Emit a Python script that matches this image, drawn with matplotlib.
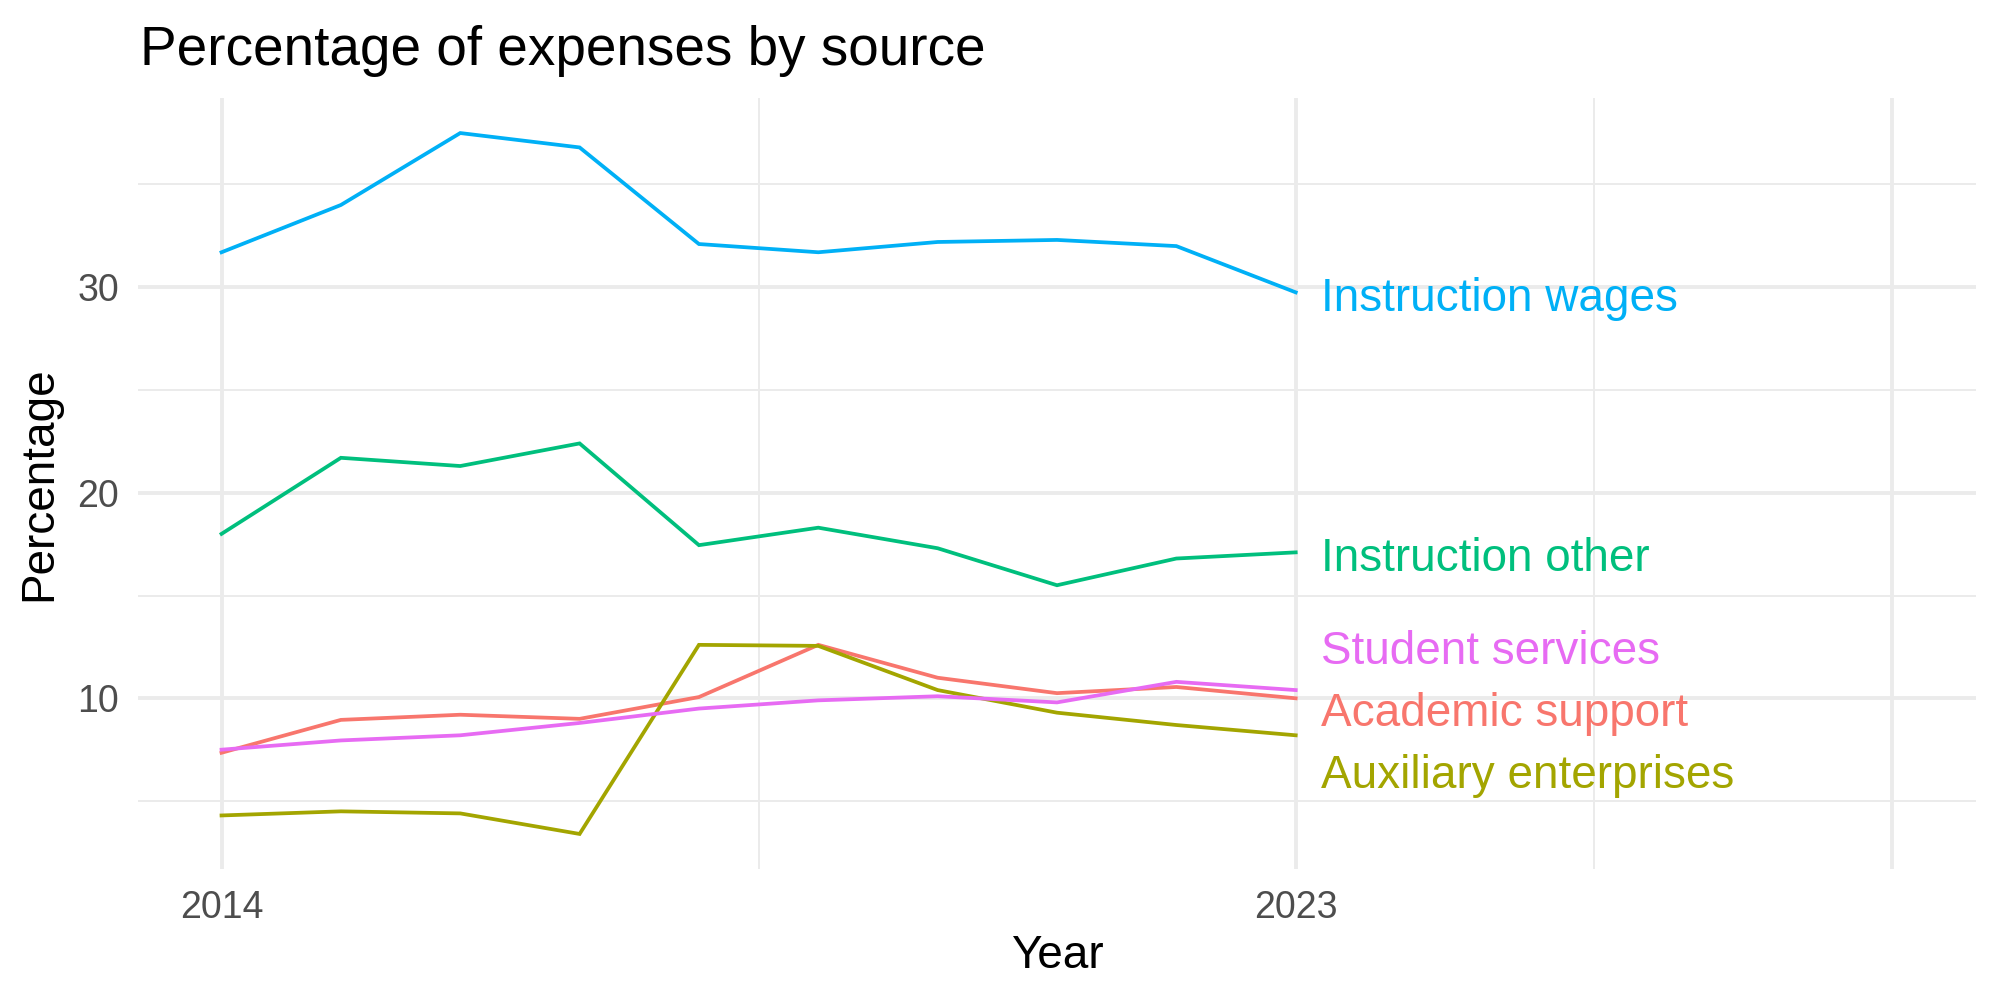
import matplotlib
matplotlib.use("Agg")
import matplotlib.pyplot as plt
import numpy as np

years = [2014, 2015, 2016, 2017, 2018, 2019, 2020, 2021, 2022, 2023]
instruction_wages = [31.7, 34.0, 37.5, 36.8, 32.1, 31.7, 32.2, 32.3, 32.0, 29.75]
instruction_other = [18.0, 21.7, 21.3, 22.4, 17.45, 18.3, 17.3, 15.5, 16.8, 17.1]
academic_support = [7.35, 8.95, 9.2, 9.0, 10.06, 12.6, 11.0, 10.25, 10.55, 10.0]
student_services = [7.5, 7.95, 8.2, 8.8, 9.5, 9.9, 10.1, 9.8, 10.8, 10.4]
auxiliary_enterprises = [4.3, 4.5, 4.4, 3.4, 12.6, 12.55, 10.4, 9.3, 8.7, 8.2]

series_names = ["Academic support", "Auxiliary enterprises", "Instruction other",
                "Instruction wages", "Student services"]
series_values = [academic_support, auxiliary_enterprises, instruction_other,
                 instruction_wages, student_services]
colors = ["#F8766D", "#A3A500", "#00BF7D", "#00B0F6", "#E76BF3"]

x_major = [2014, 2023, 2028]
x_tick_labels = ["2014", "2023", ""]
x_minor = [2018.5, 2025.5]
y_major = [10, 20, 30]
y_minor = [5, 15, 25, 35]

plt.rcParams['font.family'] = ['Liberation Sans', 'DejaVu Sans']

fig = plt.figure(figsize=(20, 10), dpi=100)
ax = fig.add_axes([0.069, 0.131, 0.919, 0.771])

xlo, xhi = 2014, 2028
ax.set_xlim(xlo - 0.05 * (xhi - xlo), xhi + 0.05 * (xhi - xlo))
all_vals = np.concatenate([np.array(v) for v in series_values])
ylo, yhi = all_vals.min(), all_vals.max()
ax.set_ylim(ylo - 0.05 * (yhi - ylo), yhi + 0.05 * (yhi - ylo))

grid_c = "#EBEBEB"
for xv in x_major:
    ax.axvline(xv, color=grid_c, lw=2.8, zorder=0)
for xv in x_minor:
    ax.axvline(xv, color=grid_c, lw=1.4, zorder=0)
for yv in y_major:
    ax.axhline(yv, color=grid_c, lw=2.8, zorder=0)
for yv in y_minor:
    ax.axhline(yv, color=grid_c, lw=1.4, zorder=0)

for name, vals, c in zip(series_names, series_values, colors):
    ax.plot(years, vals, color=c, lw=2.7, solid_joinstyle='miter', zorder=3)

# simple repel of end labels (min gap in data units)
last = np.array([v[-1] for v in series_values], dtype=float)
order = np.argsort(last)
gap = 3.0
pos = last.copy()
clusters = [[i] for i in order]
changed = True
while changed:
    changed = False
    new = []
    for cl in clusters:
        if new:
            prev = new[-1]
            pm = np.mean(last[prev]); n_prev = len(prev)
            top_prev = pm + gap * (n_prev - 1) / 2
            cm = np.mean(last[cl]); n = len(cl)
            bot_cur = cm - gap * (n - 1) / 2
            if bot_cur - top_prev < gap:
                new[-1] = prev + cl
                changed = True
                continue
        new.append(cl)
    clusters = new
for cl in clusters:
    m = np.mean(last[cl]); n = len(cl)
    for k, i in enumerate(cl):
        pos[i] = m + gap * (k - (n - 1) / 2)

for i, (name, c) in enumerate(zip(series_names, colors)):
    ax.text(years[-1] + 0.21, pos[i] - 0.3, name, color=c, fontsize=33,
            ha='left', va='center', zorder=4)

ax.set_xticks(x_major)
ax.set_xticklabels(x_tick_labels)
ax.set_yticks(y_major)
ax.tick_params(axis='both', length=0, labelsize=27, labelcolor="#4D4D4D")
ax.tick_params(axis='x', pad=15)
ax.tick_params(axis='y', pad=13.5)
for s in ax.spines.values():
    s.set_visible(False)

ax.set_xlabel("Year", fontsize=33, labelpad=6)
ax.set_ylabel("Percentage", fontsize=33, labelpad=12)
fig.text(0.07, 0.949, "Percentage of expenses by source", fontsize=39.5,
         ha='left', va='center')

fig.savefig("out.png", dpi=100)
